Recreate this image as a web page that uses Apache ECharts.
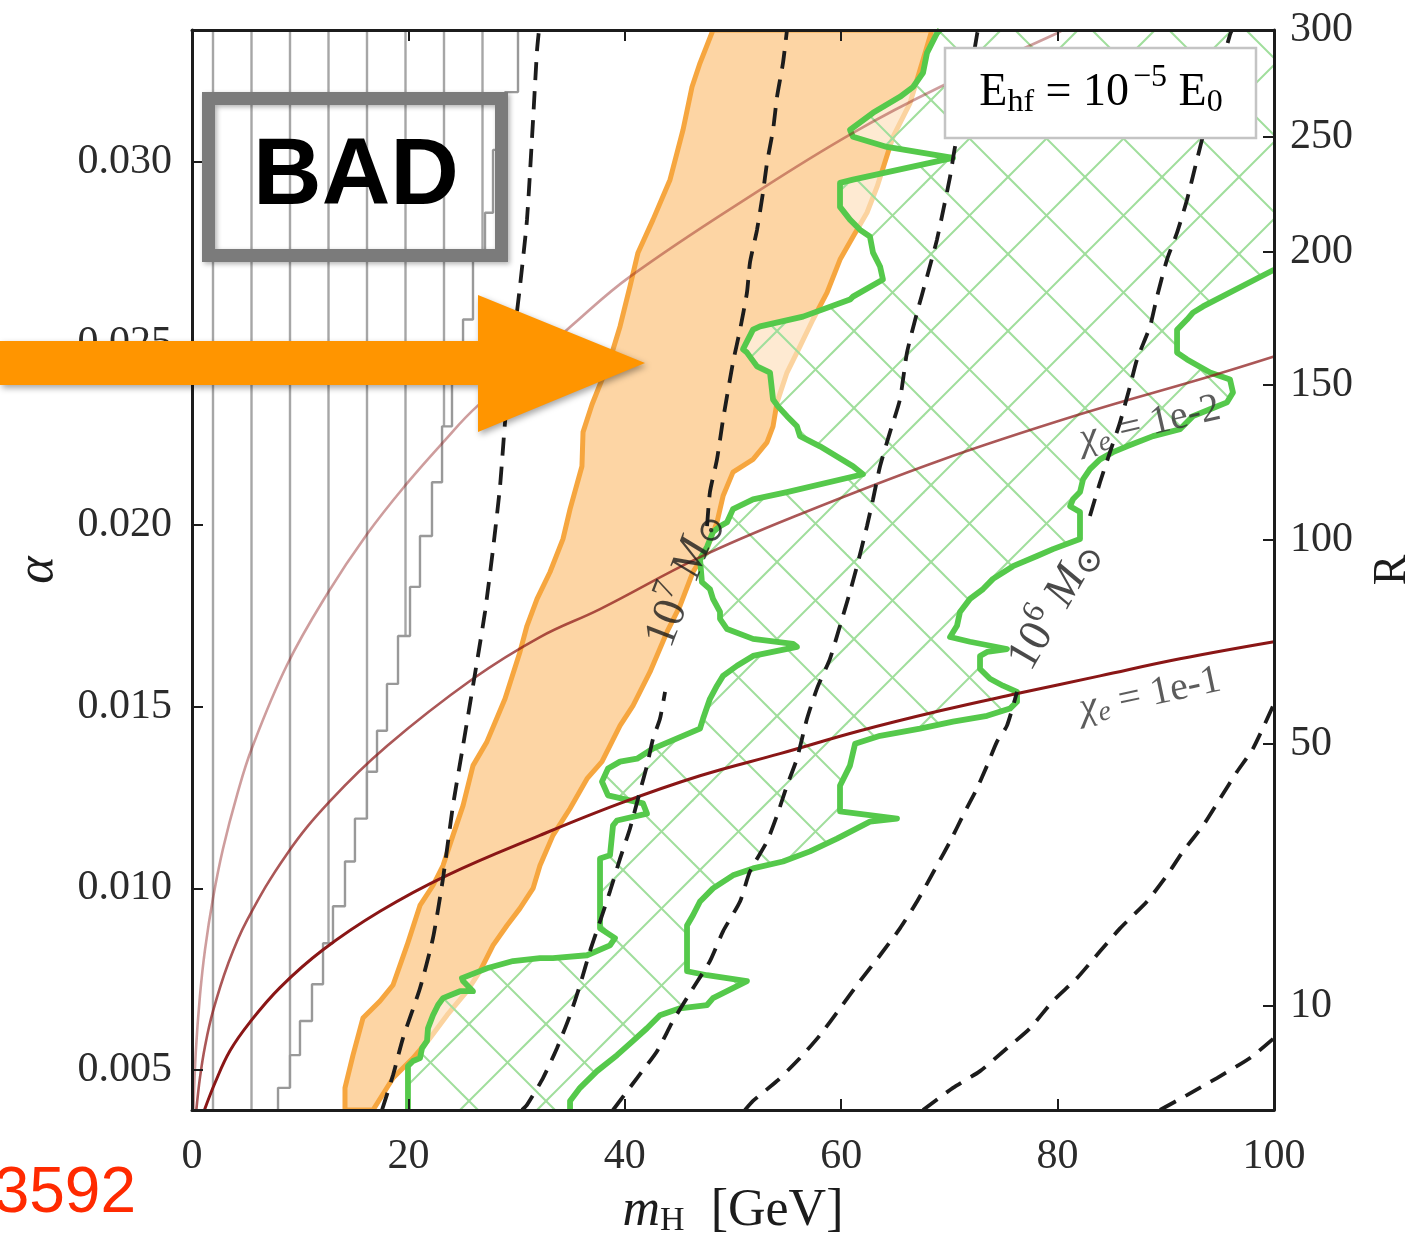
<!DOCTYPE html>
<html>
<head>
<meta charset="utf-8">
<script src="https://cdn.jsdelivr.net/npm/echarts@6/dist/echarts.min.js"></script>
<style>
  html, body { margin: 0; padding: 0; background: #ffffff; }
  #chart { width: 1424px; height: 1243px; }
</style>
</head>
<body>
<div id="chart"></div>
<script>
// ---- axis ranges and ticks ----
const M_MIN = 0, M_MAX = 100;
const A_MIN = 0.0039, A_MAX = 0.03363;
const alphaTicks = [0.005, 0.010, 0.015, 0.020, 0.025, 0.030];
const rTicks = [10, 50, 100, 150, 200, 250, 300];
const rTickAlpha = [0.00676, 0.01398, 0.01959, 0.02387, 0.02753, 0.03069, 0.03363];

// ---- excluded region (vertical hatching), staircase edge ----
const stairM = [30.13, 28.93, 27.82, 27.08, 25.97, 25.05, 24.03, 23.11, 22.18, 21.07, 20.15, 19.04,
                18.02, 17.10, 16.17, 15.06, 14.14, 13.03, 12.11, 11.09, 9.98, 9.06, 7.95];
const stairBreaks = [0.03192, 0.03033, 0.02860, 0.02744, 0.02566, 0.02415, 0.02272, 0.02118, 0.01970,
                     0.01830, 0.01695, 0.01563, 0.01434, 0.01321, 0.01192, 0.01074, 0.00951, 0.00849,
                     0.00736, 0.00635, 0.00541, 0.00451];

// ---- orange band (left edge upward, right edge downward) ----
const orangeBand = [
  [14.14,0.00390],[14.14,0.00451],[14.88,0.00541],[15.80,0.00643],[17.38,0.00690],[18.58,0.00734],
  [19.87,0.00843],[21.07,0.00953],[22.27,0.01008],[23.20,0.01063],[24.12,0.01146],[25.05,0.01228],
  [25.97,0.01338],[27.26,0.01404],[28.93,0.01522],[30.31,0.01651],[30.96,0.01723],[31.89,0.01797],
  [33.09,0.01871],[34.29,0.01962],[34.94,0.02044],[36.04,0.02162],[36.14,0.02256],[36.97,0.02332],
  [38.63,0.02456],[39.56,0.02547],[40.48,0.02657],[41.22,0.02750],[42.61,0.02841],[44.18,0.02951],
  [45.38,0.03088],[46.21,0.03206],[46.95,0.03272],[48.15,0.03363],
  [68.39,0.03363],[67.28,0.03253],[66.36,0.03162],[64.79,0.03069],[63.31,0.02931],[62.38,0.02860],
  [61.09,0.02794],[59.89,0.02731],[58.69,0.02640],[57.39,0.02566],[56.19,0.02492],[54.99,0.02420],
  [54.07,0.02338],[53.70,0.02272],[53.14,0.02228],[51.85,0.02181],[50.00,0.02146],[49.08,0.02080],
  [48.52,0.02008],[47.60,0.01934],[46.30,0.01871],[45.10,0.01778],[43.90,0.01706],[42.33,0.01596],
  [40.76,0.01503],[39.56,0.01448],[37.89,0.01349],[36.51,0.01302],[34.94,0.01220],[33.36,0.01146],
  [32.16,0.01063],[31.52,0.01000],[30.31,0.00945],[29.11,0.00898],[27.82,0.00843],[26.62,0.00772],
  [25.42,0.00717],[23.57,0.00651],[22.00,0.00588],[20.43,0.00533],[18.58,0.00478],[16.73,0.00390]
];

// ---- green contour: left edge (bottom to top) and right edge (right axis to bottom) ----
const greenLeft = [
  [19.96,0.00390],[19.96,0.00511],[20.43,0.00525],[21.07,0.00533],[21.26,0.00560],[21.72,0.00580],
  [21.81,0.00615],[22.27,0.00651],[22.74,0.00679],[23.20,0.00698],[24.77,0.00717],[25.97,0.00717],
  [25.05,0.00745],[24.95,0.00753],[27.26,0.00780],[29.67,0.00800],[32.16,0.00808],[33.36,0.00808],
  [36.51,0.00816],[38.63,0.00843],[39.09,0.00863],[37.71,0.00890],[37.71,0.01082],[38.63,0.01091],
  [38.91,0.01173],[39.28,0.01187],[42.05,0.01206],[41.68,0.01234],[38.45,0.01256],[37.89,0.01294],
  [38.45,0.01330],[39.56,0.01349],[41.13,0.01357],[42.61,0.01385],[46.95,0.01440],[47.23,0.01467],
  [47.87,0.01522],[48.52,0.01558],[49.08,0.01585],[50.37,0.01613],[51.85,0.01640],[55.91,0.01665],
  [55.55,0.01673],[51.85,0.01687],[49.45,0.01714],[48.80,0.01742],[48.80,0.01761],[48.15,0.01797],
  [47.87,0.01824],[47.13,0.01843],[46.95,0.01907],[47.60,0.01940],[48.15,0.01981],[48.80,0.01997],
  [49.45,0.02008],[50.00,0.02044],[51.85,0.02071],[54.99,0.02091],[62.01,0.02140],[61.09,0.02162],
  [58.04,0.02217],[56.19,0.02245],[55.91,0.02272],[54.99,0.02300],[54.16,0.02327],[53.70,0.02346],
  [53.42,0.02420],[52.22,0.02437],[51.29,0.02475],[50.92,0.02484],[51.85,0.02538],[52.50,0.02547],
  [56.47,0.02574],[60.81,0.02621],[61.09,0.02629],[63.86,0.02676],[63.59,0.02712],[62.94,0.02750],
  [62.66,0.02794],[61.74,0.02813],[60.81,0.02841],[59.89,0.02876],[59.89,0.02942],[61.09,0.02951],
  [70.33,0.03011],[64.23,0.03041],[61.09,0.03069],[60.81,0.03088],[62.94,0.03135],[65.43,0.03179],
  [66.64,0.03206],[67.56,0.03245],[67.93,0.03300],[68.85,0.03354],[69.13,0.03363]
];
const greenRight = [
  [100,0.02703],[93.44,0.02602],[92.51,0.02585],[91.96,0.02566],[91.04,0.02538],[91.04,0.02475],
  [91.96,0.02456],[94.09,0.02420],[95.93,0.02401],[96.21,0.02365],[95.66,0.02338],[94.09,0.02319],
  [92.51,0.02300],[91.31,0.02264],[88.82,0.02245],[86.41,0.02217],[85.12,0.02201],[83.92,0.02181],
  [82.99,0.02154],[82.35,0.02126],[82.07,0.02091],[81.42,0.02071],[81.15,0.02052],[82.07,0.02036],
  [82.07,0.01962],[79.57,0.01934],[78.10,0.01915],[75.88,0.01887],[74.03,0.01852],[73.11,0.01824],
  [71.90,0.01797],[70.98,0.01761],[70.70,0.01723],[70.06,0.01692],[71.90,0.01679],[75.32,0.01659],
  [73.48,0.01651],[72.83,0.01640],[72.83,0.01604],[73.75,0.01577],[74.95,0.01558],[76.25,0.01541],
  [76.25,0.01514],[75.60,0.01495],[73.48,0.01475],[70.33,0.01459],[67.28,0.01440],[63.59,0.01420],
  [61.28,0.01398],[60.81,0.01338],[59.89,0.01283],[59.89,0.01212],[65.16,0.01192],[62.66,0.01184],
  [59.61,0.01137],[57.12,0.01102],[54.62,0.01074],[51.85,0.01055],[50.00,0.01036],[48.15,0.01000],
  [46.95,0.00964],[46.30,0.00926],[45.75,0.00898],[45.75,0.00772],[47.60,0.00761],[51.29,0.00745],
  [48.15,0.00698],[47.60,0.00679],[45.10,0.00670],[43.25,0.00651],[42.05,0.00615],[40.76,0.00580],
  [39.28,0.00541],[37.43,0.00497],[35.86,0.00451],[34.94,0.00415],[34.94,0.00390]
];

// ---- chi_e contours ----
const chiCurveA = [
  [0.13,0.00390],[0.35,0.00550],[0.74,0.00706],[1.20,0.00831],[1.94,0.00973],[2.87,0.01110],
  [4.16,0.01257],[5.55,0.01387],[8.78,0.01615],[12.48,0.01810],[16.17,0.01975],[19.87,0.02115],
  [23.20,0.02228],[26.34,0.02327],[34.66,0.02538],[40.48,0.02684],[52.50,0.02923],[61.09,0.03080],
  [69.13,0.03206],[79.94,0.03354],[80.50,0.03363]
];
const chiCurveB = [
  [0.40,0.00390],[0.74,0.00480],[1.20,0.00565],[1.94,0.00662],[3.33,0.00792],[5.08,0.00912],
  [8.78,0.01095],[12.75,0.01240],[18.02,0.01392],[25.97,0.01577],[32.16,0.01692],[37.71,0.01769],
  [46.95,0.01912],[56.19,0.02030],[69.13,0.02178],[82.07,0.02305],[93.81,0.02407],[100,0.02464]
];
const chiCurveC = [
  [1.15,0.00390],[2.13,0.00465],[3.51,0.00553],[5.36,0.00632],[8.13,0.00727],[12.11,0.00831],
  [17.38,0.00937],[23.57,0.01036],[32.16,0.01146],[39.56,0.01234],[46.95,0.01310],[54.34,0.01371],
  [61.74,0.01434],[69.13,0.01489],[76.06,0.01535],[83.92,0.01585],[91.31,0.01632],[100,0.01679]
];

// ---- dashed mass contours ----
const massA = [
  [17.56,0.00390],[18.58,0.00486],[19.50,0.00588],[21.07,0.00725],[22.27,0.00863],[23.20,0.01028],
  [24.12,0.01228],[25.05,0.01393],[26.34,0.01624],[27.08,0.01761],[27.82,0.01934],[28.47,0.02107],
  [28.93,0.02283],[29.57,0.02470],[30.31,0.02657],[30.96,0.02841],[31.52,0.03115],[31.89,0.03308],
  [32.07,0.03363]
];
const mass7Low = [
  [30.50,0.00390],[30.96,0.00404],[32.44,0.00478],[33.73,0.00560],[34.94,0.00651],[35.86,0.00734],
  [36.78,0.00827],[37.71,0.00909],[38.63,0.00992],[39.56,0.01082],[40.48,0.01165],[41.40,0.01267],
  [42.05,0.01338],[42.61,0.01412],[43.25,0.01467],[43.72,0.01541]
];
const mass7High = [
  [47.60,0.01997],[47.87,0.02091],[48.52,0.02181],[49.08,0.02291],[50.00,0.02448],[50.65,0.02538],
  [51.29,0.02640],[51.57,0.02723],[52.22,0.02813],[52.77,0.02915],[53.14,0.02997],[53.70,0.03088],
  [54.07,0.03179],[54.62,0.03272],[54.99,0.03363]
];
const massB = [
  [38.91,0.00390],[41.13,0.00478],[42.98,0.00552],[44.45,0.00635],[46.30,0.00725],[47.87,0.00800],
  [49.08,0.00882],[50.65,0.00964],[51.57,0.01047],[53.14,0.01129],[54.07,0.01201],[54.99,0.01283],
  [55.91,0.01357],[56.84,0.01467],[57.76,0.01550],[58.96,0.01632],[59.89,0.01723],[60.81,0.01816],
  [61.46,0.01887],[62.38,0.01997],[62.94,0.02071],[63.59,0.02162],[64.51,0.02256],[65.43,0.02346],
  [66.08,0.02475],[67.01,0.02585],[67.93,0.02684],[68.85,0.02786],[70.06,0.02959],[70.52,0.03041],
  [71.53,0.03170],[72.55,0.03350],[72.64,0.03363]
];
const mass6Low = [
  [51.11,0.00390],[51.85,0.00415],[54.07,0.00470],[56.19,0.00533],[58.04,0.00596],[59.89,0.00670],
  [61.74,0.00745],[63.59,0.00816],[65.43,0.00890],[67.01,0.00964],[68.85,0.01063],[70.06,0.01129],
  [71.26,0.01201],[72.55,0.01275],[73.48,0.01338],[74.40,0.01404],[75.32,0.01448],[76.25,0.01541]
];
const mass6High = [
  [82.99,0.02025],[83.92,0.02118],[84.84,0.02201],[85.77,0.02283],[86.69,0.02382],[87.34,0.02456],
  [88.54,0.02547],[89.19,0.02629],[90.11,0.02731],[91.04,0.02805],[91.96,0.02896],[92.88,0.03006],
  [94.27,0.03170],[95.93,0.03350],[96.12,0.03363]
];
const massC = [
  [67.56,0.00390],[70.33,0.00451],[72.83,0.00497],[75.32,0.00560],[77.45,0.00615],[79.57,0.00690],
  [81.79,0.00753],[83.92,0.00827],[85.77,0.00890],[88.26,0.00964],[90.11,0.01036],[91.59,0.01102],
  [93.44,0.01173],[95.01,0.01247],[96.58,0.01321],[98.06,0.01385],[100,0.01508]
];
const massD = [
  [89.46,0.00390],[91.96,0.00431],[94.73,0.00478],[97.78,0.00533],[100,0.00588]
];

// ---- contour labels ----
const labelTexts = ['{n|10}{sup|7}{mi| M}{sub|⊙}', '{n|10}{sup|6}{mi| M}{sub|⊙}',
                    '{gi|χ}{sub2|e}{c| = 1e-2}', '{gi|χ}{sub2|e}{c| = 1e-1}'];
const labelAt = [[45.50, 0.01850], [79.76, 0.01778], [88.54, 0.02278], [88.54, 0.01533]];
const labelAngle = [69, 60, 13, 12];

// ---------------------------------------------------------------
const SERIF = "'Liberation Serif', 'DejaVu Serif', serif";
const INK = '#1c1c1c';

function stairPoints() {
  const pts = [[stairM[0], A_MAX]];
  for (let i = 0; i < stairBreaks.length; i++) {
    pts.push([stairM[i], stairBreaks[i]]);
    pts.push([stairM[i + 1], stairBreaks[i]]);
  }
  pts.push([stairM[stairM.length - 1], A_MIN]);
  return pts;
}
const stairLine = stairPoints();
const excludedRegion = [[M_MIN, A_MIN], [M_MIN, A_MAX]].concat(stairLine);
const greenRegion = greenLeft.concat([[M_MAX, A_MAX]], greenRight);

// hatch tiles
function verticalHatch() {
  const c = document.createElement('canvas');
  c.width = 77; c.height = 8;
  const g = c.getContext('2d');
  g.strokeStyle = '#a6a6a6';
  g.lineWidth = 2.4;
  [20.5, 59].forEach(x => { g.beginPath(); g.moveTo(x, -1); g.lineTo(x, 9); g.stroke(); });
  return c;
}
function crossHatch() {
  const S = 77;
  const c = document.createElement('canvas');
  c.width = S; c.height = S;
  const g = c.getContext('2d');
  g.fillStyle = 'rgba(255,255,255,0.5)';
  g.fillRect(0, 0, S, S);
  g.strokeStyle = '#a0de9c';
  g.lineWidth = 2;
  for (let k = -3; k <= 3; k++) {
    const c1 = -16 + S * k;   // x - y = c1
    g.beginPath(); g.moveTo(-20, -20 - c1); g.lineTo(S + 20, S + 20 - c1); g.stroke();
    const c2 = 30 + S * k;    // x + y = c2
    g.beginPath(); g.moveTo(-20, c2 + 20); g.lineTo(S + 20, c2 - S - 20); g.stroke();
  }
  return c;
}

function polygonSeries(name, pts, style, z) {
  return {
    type: 'custom', name, z, silent: true, clip: true, data: pts,
    renderItem: (params, api) => {
      if (params.dataIndex !== 0) return null;
      return { type: 'polygon', shape: { points: pts.map(p => api.coord(p)) }, style };
    }
  };
}
function lineSeries(name, data, lineStyle, z, smooth) {
  return {
    type: 'line', name, data, z, silent: true, clip: true,
    showSymbol: false, symbol: 'none', smooth: smooth || false, lineStyle
  };
}

const dashStyle = { color: INK, width: 3.8, type: [18, 11] };
const chiColor = '#8a1616';

const richMath = {
  n:    { fontFamily: SERIF, fontSize: 46, color: INK },
  mi:   { fontFamily: SERIF, fontSize: 46, fontStyle: 'italic', color: INK },
  c:    { fontFamily: SERIF, fontSize: 40, color: '#333' },
  gi:   { fontFamily: SERIF, fontSize: 40, fontStyle: 'italic', color: '#333' },
  sup:  { fontFamily: SERIF, fontSize: 32, color: INK, padding: [0, 0, 28, 0] },
  sub:  { fontFamily: SERIF, fontSize: 34, color: INK, padding: [18, 0, 0, 0] },
  sub2: { fontFamily: SERIF, fontSize: 28, fontStyle: 'italic', color: '#333', padding: [16, 0, 0, 0] }
};

const chart = echarts.init(document.getElementById('chart'), null, { renderer: 'canvas' });

function nearestR(v) {
  let best = 0;
  for (let i = 1; i < rTickAlpha.length; i++) {
    if (Math.abs(v - rTickAlpha[i]) < Math.abs(v - rTickAlpha[best])) best = i;
  }
  return String(rTicks[best]);
}

const axisLineStyle = { show: true, onZero: false, lineStyle: { color: INK, width: 3 } };
const tickStyle = { show: true, inside: true, length: 11, lineStyle: { color: INK, width: 2 } };
const tickFont = { fontFamily: SERIF, fontSize: 42, color: '#2b2b2b' };

chart.setOption({
  animation: false,
  backgroundColor: '#ffffff',
  grid: { left: 192, right: 150, top: 30, bottom: 131 },
  xAxis: [
    {
      type: 'value', min: M_MIN, max: M_MAX, interval: 20, position: 'bottom', z: 10,
      axisLine: axisLineStyle, axisTick: tickStyle, splitLine: { show: false },
      axisLabel: Object.assign({ margin: 26 }, tickFont),
      name: '{i|m}{s|H}{n|  [GeV]}', nameLocation: 'middle', nameGap: 74,
      nameTextStyle: {
        rich: {
          i: { fontFamily: SERIF, fontStyle: 'italic', fontSize: 52, color: INK },
          s: { fontFamily: SERIF, fontSize: 34, color: INK, padding: [20, 0, 0, 0] },
          n: { fontFamily: SERIF, fontSize: 52, color: INK }
        }
      }
    },
    {
      type: 'value', min: M_MIN, max: M_MAX, interval: 20, position: 'top', z: 10,
      axisLine: axisLineStyle, axisTick: tickStyle, splitLine: { show: false },
      axisLabel: { show: false }
    }
  ],
  yAxis: [
    {
      type: 'value', min: A_MIN, max: A_MAX, position: 'left', z: 10,
      axisLine: axisLineStyle, splitLine: { show: false },
      axisTick: Object.assign({ customValues: alphaTicks }, tickStyle),
      axisLabel: Object.assign({ customValues: alphaTicks, margin: 20, formatter: v => v.toFixed(3) }, tickFont),
      name: 'α', nameLocation: 'middle', nameGap: 128,
      nameTextStyle: { fontFamily: SERIF, fontStyle: 'italic', fontSize: 52, color: INK }
    },
    {
      type: 'value', min: A_MIN, max: A_MAX, position: 'right', z: 10,
      axisLine: axisLineStyle, splitLine: { show: false },
      axisTick: Object.assign({ customValues: rTickAlpha }, tickStyle),
      axisLabel: Object.assign({ customValues: rTickAlpha, margin: 16, formatter: nearestR }, tickFont),
      name: 'R', nameLocation: 'middle', nameGap: 96,
      nameTextStyle: { fontFamily: SERIF, fontSize: 46, color: INK }
    }
  ],
  series: [
    polygonSeries('excluded', excludedRegion, { fill: { image: verticalHatch(), repeat: 'repeat' } }, 1),
    lineSeries('excluded edge', stairLine, { color: '#999999', width: 2.4 }, 2),
    polygonSeries('band', orangeBand, { fill: '#fdd5a4', stroke: '#f6a63f', lineWidth: 5, lineJoin: 'round' }, 3),
    polygonSeries('green region', greenRegion, { fill: { image: crossHatch(), repeat: 'repeat' } }, 4),
    lineSeries('green left', greenLeft, { color: '#55c94b', width: 5.8, join: 'round' }, 5),
    lineSeries('green right', greenRight, { color: '#55c94b', width: 5.8, join: 'round' }, 5),
    lineSeries('chi 1e-3', chiCurveA, { color: chiColor, width: 2.6, opacity: 0.42 }, 6, 0.4),
    lineSeries('chi 1e-2', chiCurveB, { color: chiColor, width: 2.6, opacity: 0.72 }, 6, 0.4),
    lineSeries('chi 1e-1', chiCurveC, { color: chiColor, width: 3, opacity: 1 }, 6, 0.4),
    lineSeries('mass a', massA, dashStyle, 7, 0.2),
    lineSeries('mass 1e7 low', mass7Low, dashStyle, 7, 0.2),
    lineSeries('mass 1e7 high', mass7High, dashStyle, 7, 0.2),
    lineSeries('mass b', massB, dashStyle, 7, 0.2),
    lineSeries('mass 1e6 low', mass6Low, dashStyle, 7, 0.2),
    lineSeries('mass 1e6 high', mass6High, dashStyle, 7, 0.2),
    lineSeries('mass c', massC, dashStyle, 7, 0.2),
    lineSeries('mass d', massD, dashStyle, 7, 0.2),
    {
      type: 'scatter', z: 8, silent: true, symbolSize: 1, itemStyle: { color: 'rgba(0,0,0,0)' },
      data: labelAt.map((p, i) => ({
        value: p,
        label: {
          show: true, position: 'inside', rotate: labelAngle[i],
          formatter: labelTexts[i], rich: richMath
        }
      }))
    }
  ],
  graphic: [
    // legend box
    { type: 'rect', z: 50, shape: { x: 945, y: 48, width: 311, height: 90 },
      style: { fill: '#ffffff', stroke: '#c4c4c4', lineWidth: 2.5 } },
    { type: 'text', z: 51, x: 1101, y: 93,
      style: {
        text: '{n|E}{s|hf}{n| = 10}{p|−5}{n| E}{s|0}', align: 'center', verticalAlign: 'middle',
        rich: {
          n: { fontFamily: SERIF, fontSize: 46, color: INK },
          s: { fontFamily: SERIF, fontSize: 32, color: INK, padding: [20, 0, 0, 0] },
          p: { fontFamily: SERIF, fontSize: 32, color: INK, padding: [0, 0, 30, 4] }
        }
      } },
    // callout box
    { type: 'rect', z: 60, shape: { x: 208.5, y: 98.5, width: 293, height: 157 },
      style: { fill: 'rgba(0,0,0,0)', stroke: '#7b7b7b', lineWidth: 13,
               shadowBlur: 5, shadowColor: 'rgba(0,0,0,0.3)', shadowOffsetX: 2, shadowOffsetY: 2 } },
    { type: 'text', z: 61, x: 356, y: 178,
      style: { text: 'BAD', fontFamily: "'Liberation Sans', Arial, sans-serif", fontWeight: 'bold',
               fontSize: 95, fill: '#000000', align: 'center', verticalAlign: 'middle' } },
    // arrow
    { type: 'polygon', z: 62,
      shape: { points: [[0, 341], [478, 341], [478, 295], [645, 363], [478, 432], [478, 385], [0, 385]] },
      style: { fill: '#ff9500', shadowBlur: 6, shadowColor: 'rgba(0,0,0,0.35)', shadowOffsetX: 2, shadowOffsetY: 3 } },
    // reference tag
    { type: 'text', z: 63, x: 136, y: 1194,
      style: { text: '3592', fontFamily: "'Liberation Sans', Arial, sans-serif", fontSize: 64,
               fill: '#ff2a00', align: 'right', verticalAlign: 'middle' } }
  ]
});
</script>
</body>
</html>
